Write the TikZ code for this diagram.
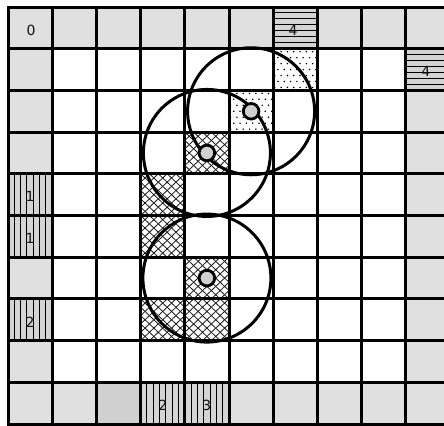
\documentclass[tikz,border=0pt]{standalone}
\usepackage{fontspec}
\setmainfont{DejaVu Sans}
\definecolor{bordergray}{HTML}{E0E0E0}
\definecolor{darkcell}{HTML}{D0D0D0}
\definecolor{hatchbg}{HTML}{D4D4D4}
\definecolor{hubgray}{HTML}{D0D0D0}
\definecolor{labtext}{HTML}{111111}
\begin{document}
\begin{tikzpicture}[x=44.2pt,y=-41.7pt,
  gridline/.style={line width=3pt,black,line cap=rect},
  ring/.style={line width=3pt,black},
  hub/.style={line width=2.8pt,draw=black,fill=hubgray},
  thin/.style={line width=1pt,black},
  xline/.style={line width=0.8pt,black!90},
  lab/.style={font=\fontsize{14}{16}\selectfont,text=labtext,inner sep=0pt}]
\useasboundingbox (-0.181,-0.168) rectangle (9.864,10.024);
\clip (-0.181,-0.168) rectangle (9.864,10.024);
% border cells
\fill[bordergray] (0,0) rectangle (10,1);
\fill[bordergray] (0,9) rectangle (10,10);
\fill[bordergray] (0,0) rectangle (1,10);
\fill[bordergray] (9,0) rectangle (10,10);
\fill[darkcell] (2,9) rectangle (3,10);
% vertical hatch cells
\foreach \i/\j in {0/4,0/5,0/7,3/9,4/9}{
  \fill[hatchbg] (\i,\j) rectangle ++(1,1);
  \foreach \k in {1,...,6}{\draw[thin] ({\i+\k/7},\j) -- ++(0,1);}
}
% horizontal hatch cells
\foreach \i/\j in {6/0,9/1}{
  \fill[hatchbg] (\i,\j) rectangle ++(1,1);
  \foreach \k in {1,...,6}{\draw[thin] (\i,{\j+\k/7}) -- ++(1,0);}
}
% dotted cells
\foreach \i/\j in {6/1,5/2}{
  \foreach \a in {0,...,6}{
    \foreach \b in {0,...,6}{
      \fill[black] ({\i+(\a+0.25+0.5*mod(\b,2))/7},{\j+(\b+0.5)/7}) circle[radius=0.85pt];
    }
  }
}
% cross-hatched cells
\foreach \i/\j in {4/3,3/4,3/5,4/6,3/7,4/7}{
  \begin{scope}
    \clip (\i,\j) rectangle ++(1,1);
    \foreach \k in {-5,...,5}{
      \draw[xline] ({\i+\k/5},\j) -- ++(1,1);
      \draw[xline] ({\i+\k/5},{\j+1}) -- ++(1,-1);
    }
  \end{scope}
}
% grid
\foreach \i in {0,...,10}{\draw[gridline] (\i,0) -- (\i,10);}
\foreach \j in {0,...,10}{\draw[gridline] (0,\j) -- (10,\j);}
% labels
\node[lab] (l0) at (0.52,0.57) {0};
\node[lab] (l4a) at (6.45,0.55) {4};
\node[lab] (l4b) at (9.45,1.55) {4};
\node[lab] (l1a) at (0.5,4.55) {1};
\node[lab] (l1b) at (0.5,5.55) {1};
\node[lab] (l2a) at (0.5,7.55) {2};
\node[lab] (l2b) at (3.5,9.55) {2};
\node[lab] (l3) at (4.5,9.55) {3};
% big circles
\coordinate (ca) at (5.5,2.5);
\coordinate (cb) at (4.5,3.5);
\coordinate (cc) at (4.5,6.5);
\draw[ring] (ca) circle[radius=63.5pt];
\draw[ring] (cb) circle[radius=63.5pt];
\draw[ring] (cc) circle[radius=64pt];
% hubs
\draw[hub] (ca) circle[radius=7.8pt];
\draw[hub] (cb) circle[radius=7.8pt];
\draw[hub] (cc) circle[radius=7.8pt];
\end{tikzpicture}
\end{document}
